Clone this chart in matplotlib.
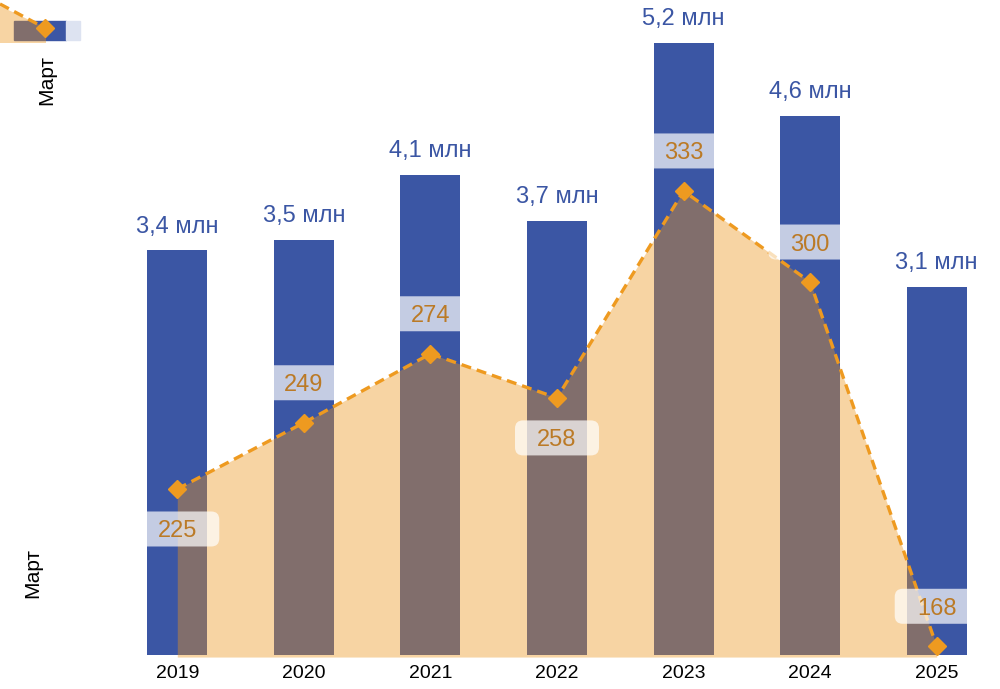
import matplotlib
matplotlib.use('Agg')
import matplotlib.pyplot as plt
import matplotlib.transforms as mtrans
from matplotlib.patches import FancyBboxPatch, Rectangle, Polygon
from matplotlib.lines import Line2D

plt.rcParams['font.family'] = ['Liberation Sans', 'DejaVu Sans']

# data
years = ['2019', '2020', '2021', '2022', '2023', '2024', '2025']
visitors_mln = [3.44, 3.53, 4.08, 3.69, 5.2, 4.58, 3.13]
march = [225, 249, 274, 258, 333, 300, 168]
label_side = [-1, 1, 1, -1, 1, 1, 1]   # -1 below the point, 1 above

BLUE = '#3b56a4'
ORANGE = '#ee9a20'
AREA = '#eb941a'
LBL = '#bb7a26'

W, H = 1000, 689
fig = plt.figure(figsize=(W / 100, H / 100), dpi=100)
ax = fig.add_axes([0.114, 34 / H, 0.886, 655 / H])
x = list(range(len(years)))

ax.bar(x, visitors_mln, width=0.474, color=BLUE, zorder=1)
ax.set_xlim(-0.5, 6.5)
ax.set_ylim(0, 655 / 117.7)
for i, v in enumerate(visitors_mln):
    ax.annotate('{:.1f} млн'.format(v).replace('.', ','), (i, v),
                xytext=(0, 9), textcoords='offset points',
                ha='center', va='bottom', fontsize=17, color=BLUE)
ax.set_xticks(x)
ax.set_xticklabels(years, fontsize=14)
ax.tick_params(axis='x', length=0, pad=7)
ax.set_yticks([])
for s in ax.spines.values():
    s.set_visible(False)

### secondary axis: march numbers as area + dashed line
ax2 = ax.twinx()
ax2.set_ylim(164.84, 402.2)
ax2.set_yticks([])
for s in ax2.spines.values():
    s.set_visible(False)
ax2.fill_between(x, march, 164.1, color=AREA, alpha=0.4, lw=0, clip_on=False, zorder=1)
ax2.plot(x, march, color=ORANGE, lw=2.4, linestyle=(0, (3, 1.8)), zorder=2)
ax2.plot(x, march, color=ORANGE, lw=0, marker='D', ms=9, zorder=3)

for i, v in enumerate(march):
    off = 0.40 * label_side[i]
    trans = fig.dpi_scale_trans + mtrans.ScaledTranslation(i, v, ax2.transData)
    box = FancyBboxPatch((-0.42, off - 0.175), 0.84, 0.35,
                         boxstyle='round,pad=0,rounding_size=0.08',
                         transform=trans, fc='white', ec='none', alpha=0.7,
                         zorder=4, clip_on=False)
    ax2.add_patch(box)
    ax2.annotate(str(v), (i, v), xytext=(0, off * 72), textcoords='offset points',
                 ha='center', va='center_baseline', fontsize=17, color=LBL, zorder=5)

fig.text(0.0327, 1 - 573 / H, 'Март', rotation=90, ha='center', va='center', fontsize=15)

### clipped mini-legend fragment in the top left corner
def fpx(px, py):
    return (px / W, 1 - py / H)

tf = fig.transFigure
fig.patches.append(Rectangle(fpx(14, 40), 52 / W, 19 / H, color=BLUE, transform=tf))
fig.patches.append(Rectangle(fpx(66, 40), 14 / W, 19 / H, color='#dde3f1', transform=tf))
fig.patches.append(Polygon([fpx(0, 6), fpx(46, 28), fpx(46, 43), fpx(0, 43)],
                           closed=True, color=AREA, alpha=0.4, lw=0, transform=tf))
fig.lines.append(Line2D([0, 45 / W], [1 - 4 / H, 1 - 28 / H], color=ORANGE, lw=2.4,
                        linestyle=(0, (3, 1.8)), transform=tf))
fig.lines.append(Line2D([45 / W], [1 - 28 / H], color=ORANGE, lw=0, marker='D', ms=9,
                        transform=tf))
fig.text(0.0465, 1 - 80 / H, 'Март', rotation=90, ha='center', va='center', fontsize=15)

fig.savefig('out.png', dpi=100)
